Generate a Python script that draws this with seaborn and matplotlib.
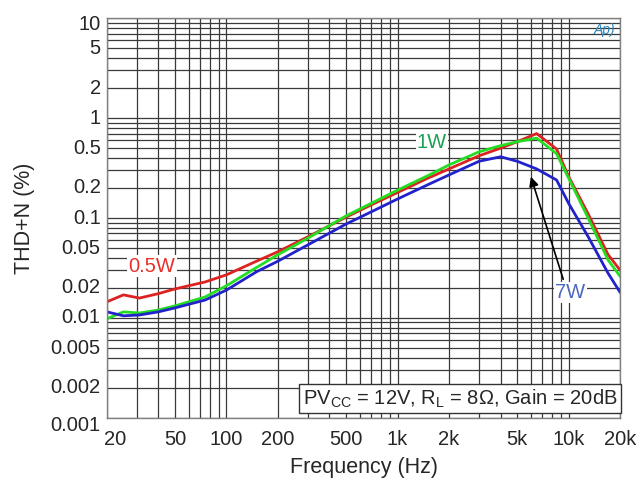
import matplotlib
matplotlib.use('Agg')
import matplotlib.pyplot as plt
import matplotlib.transforms as mtrans
import seaborn as sns
import pandas as pd
from matplotlib.ticker import LogLocator, NullFormatter

# data
freq = [20, 25, 31, 40, 50, 75, 100, 150, 200, 300, 500, 700, 1000, 1500,
        2000, 3000, 4000, 5000, 6500, 8500, 10000, 13000, 17000, 20000]
thd_05w = [0.0145, 0.0170, 0.0158, 0.0175, 0.0195, 0.0229, 0.027, 0.037, 0.046, 0.065,
           0.102, 0.135, 0.18, 0.25, 0.31, 0.42, 0.50, 0.58, 0.70, 0.49,
           0.26, 0.11, 0.043, 0.030]
thd_1w = [0.0098, 0.0115, 0.0112, 0.0120, 0.0132, 0.0162, 0.021, 0.032, 0.043, 0.063,
          0.105, 0.14, 0.19, 0.265, 0.34, 0.46, 0.53, 0.58, 0.63, 0.44,
          0.25, 0.10, 0.038, 0.026]
thd_7w = [0.0115, 0.0105, 0.0107, 0.0115, 0.0126, 0.0151, 0.019, 0.029, 0.037, 0.054,
          0.087, 0.115, 0.155, 0.215, 0.27, 0.37, 0.41, 0.37, 0.31, 0.24,
          0.14, 0.065, 0.028, 0.018]

ytick_vals = [0.001, 0.002, 0.005, 0.01, 0.02, 0.05, 0.1, 0.2, 0.5, 1, 2, 5, 10]
ytick_labels = ['0.001', '0.002', '0.005', '0.01', '0.02', '0.05', '0.1', '0.2', '0.5', '1', '2', '5', '10']
xtick_vals = [20, 50, 100, 200, 500, 1000, 2000, 5000, 10000, 20000]
xtick_labels = ['20', '50', '100', '200', '500', '1k', '2k', '5k', '10k', '20k']

df = pd.DataFrame({
    'freq': freq * 3,
    'thd': thd_05w + thd_1w + thd_7w,
    'power': ['0.5W'] * len(freq) + ['1W'] * len(freq) + ['7W'] * len(freq),
})

sns.set_style('white')
plt.rcParams['font.family'] = ['Liberation Sans', 'DejaVu Sans']
plt.rcParams['mathtext.fontset'] = 'custom'
plt.rcParams['mathtext.rm'] = 'Liberation Sans'

fig = plt.figure(figsize=(6.4, 4.91), dpi=100)
ax = fig.add_axes([0.167, 0.149, 0.802, 0.814])

ax.set_xscale('log')
ax.set_yscale('log')
ax.set_xlim(20, 20000)
ax.set_ylim(0.001, 10)

# grid on every 1..9 step of each decade
ax.xaxis.set_major_locator(LogLocator(base=10, subs=range(1, 10), numticks=50))
ax.yaxis.set_major_locator(LogLocator(base=10, subs=range(1, 10), numticks=50))
ax.grid(True, which='major', color='#3a3a3a', linewidth=0.9)
ax.set_axisbelow(True)

sns.lineplot(data=df, x='freq', y='thd', hue='power',
             palette={'0.5W': '#dd2222', '1W': '#22dd22', '7W': '#2222cc'},
             linewidth=2, legend=False, ax=ax)

ax.xaxis.set_major_formatter(NullFormatter())
ax.yaxis.set_major_formatter(NullFormatter())
ax.tick_params(which='both', length=0)

# labels only on the 1-2-5 values, a few nudged like the original
x_nudge = {'20': 8}
y_nudge = {'10': -6, '0.001': -8}
for v, lab in zip(xtick_vals, xtick_labels):
    tr = mtrans.offset_copy(ax.get_xaxis_transform(), fig=fig, x=x_nudge.get(lab, 0), y=0, units='dots')
    ax.text(v, -0.03, lab, transform=tr, ha='center', va='top', fontsize=14.5)
for v, lab in zip(ytick_vals, ytick_labels):
    tr = mtrans.offset_copy(ax.get_yaxis_transform(), fig=fig, x=0, y=y_nudge.get(lab, 0), units='dots')
    ax.text(-0.012, v, lab, transform=tr, ha='right', va='center', fontsize=14.5)

ax.set_xlabel('Frequency (Hz)', fontsize=15.5, labelpad=25)
ax.set_ylabel('THD+N (%)', fontsize=15.5, labelpad=48)

for s in ax.spines.values():
    s.set_color('#808080')
    s.set_linewidth(1)

ax.text(36.7, 0.033, '0.5W', color='#e8302e', fontsize=14.5, ha='center', va='center',
        bbox=dict(facecolor='white', edgecolor='none', pad=1))
ax.text(1590, 0.575, '1W', color='#1aa050', fontsize=14.5, ha='center', va='center',
        bbox=dict(facecolor='white', edgecolor='none', pad=1))
ax.text(10200, 0.018, '7W', color='#4a68c0', fontsize=14.5, ha='center', va='center',
        bbox=dict(facecolor='white', edgecolor='none', pad=1))
ax.annotate('', xy=(5950, 0.275), xytext=(9400, 0.0229),
            arrowprops=dict(arrowstyle='-|>', color='black', lw=1.2, mutation_scale=14))

ax.text(0.995, 0.0475, r'PV$_{\mathrm{CC}}$ = 12V, R$_{\mathrm{L}}$ = 8Ω, Gain = 20dB',
        transform=ax.transAxes, ha='right', va='center', fontsize=14.5,
        bbox=dict(facecolor='white', edgecolor='#333333', pad=2.5, linewidth=1))

ax.text(0.99, 0.97, 'Ap)', transform=ax.transAxes, ha='right', va='center',
        fontsize=10, color='#2a88c0', style='italic')

fig.savefig('out.png', dpi=100)
